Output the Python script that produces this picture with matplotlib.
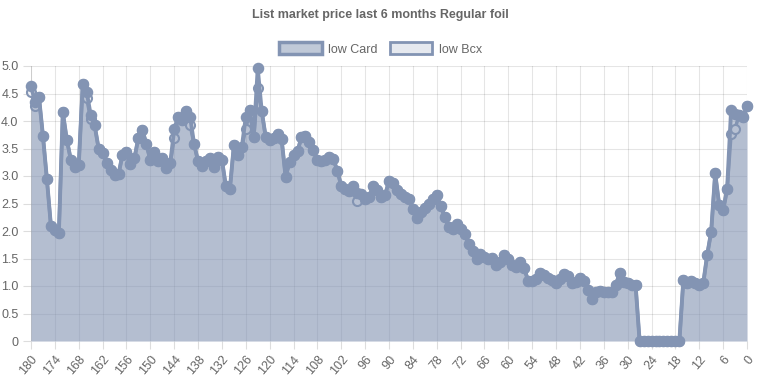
import matplotlib
matplotlib.use("Agg")
import matplotlib.pyplot as plt
from matplotlib.patches import Patch

plt.rcParams['font.family'] = ['Liberation Sans', 'DejaVu Sans']

# days back from today (180 -> 0), one value per day
days = list(range(180, -1, -1))

low_card = [
    4.64, 4.35, 4.44, 3.73, 2.94, 2.10, 2.01, 1.96, 4.16, 3.66,   # 180-171
    3.30, 3.16, 3.20, 4.67, 4.53, 4.11, 3.92, 3.50, 3.41, 3.24,   # 170-161
    3.11, 3.02, 3.03, 3.39, 3.44, 3.22, 3.32, 3.70, 3.84, 3.58,   # 160-151
    3.29, 3.43, 3.27, 3.32, 3.14, 3.23, 3.85, 4.08, 4.02, 4.18,   # 150-141
    4.08, 3.58, 3.27, 3.19, 3.27, 3.32, 3.17, 3.34, 3.29, 2.81,   # 140-131
    2.76, 3.56, 3.38, 3.53, 4.07, 4.20, 3.71, 4.96, 4.18, 3.71,   # 130-121
    3.65, 3.69, 3.76, 3.67, 2.99, 3.25, 3.38, 3.45, 3.71, 3.73,   # 120-111
    3.62, 3.47, 3.29, 3.27, 3.29, 3.35, 3.31, 3.10, 2.82, 2.76,   # 110-101
    2.73, 2.82, 2.70, 2.67, 2.59, 2.62, 2.82, 2.75, 2.61, 2.65,   # 100-91
    2.91, 2.87, 2.75, 2.67, 2.62, 2.58, 2.40, 2.24, 2.35, 2.41,   # 90-81
    2.50, 2.58, 2.65, 2.46, 2.26, 2.08, 2.04, 2.13, 2.04, 1.95,   # 80-71
    1.76, 1.64, 1.50, 1.58, 1.53, 1.49, 1.51, 1.38, 1.44, 1.56,   # 70-61
    1.49, 1.39, 1.35, 1.44, 1.32, 1.09, 1.09, 1.13, 1.23, 1.20,   # 60-51
    1.15, 1.11, 1.05, 1.13, 1.21, 1.19, 1.05, 1.08, 1.15, 1.09,   # 50-41
    0.93, 0.76, 0.90, 0.91, 0.90, 0.90, 0.89, 1.02, 1.23, 1.08,   # 40-31
    1.05, 1.02, 1.01, 0, 0, 0, 0, 0, 0, 0,                        # 30-21
    0, 0, 0, 0, 1.11, 1.05, 1.09, 1.05, 1.01, 1.05,               # 20-11
    1.57, 1.99, 3.05, 2.48, 2.38, 2.76, 4.20, 4.12, 4.11, 4.07,   # 10-1
    4.27,                                                         # 0
]

# low Bcx follows low Card except on a few days
bcx_diff = {180: 4.53, 179: 4.27, 166: 4.42, 165: 4.03, 144: 3.69, 140: 3.93,
            126: 3.86, 123: 4.60, 98: 2.55, 4: 3.77, 3: 3.86}
low_bcx = [bcx_diff.get(d, v) for d, v in zip(days, low_card)]

line_col = (131/255, 148/255, 179/255)
txt_col = '#666666'

fig = plt.figure(figsize=(7.61, 3.80), dpi=100)
ax = fig.add_axes([31/761, 1 - 341/380, 716/761, 275/380])

x = list(range(len(days)))

ax.fill_between(x, low_bcx, 0, color=line_col, alpha=0.2, lw=0, zorder=2)
ax.plot(x, low_bcx, color=line_col, lw=2.5, marker='o', ms=6.5, mfc='#eef0f5',
        mec=line_col, mew=1.5, zorder=3, clip_on=False)
ax.fill_between(x, low_card, 0, color=line_col, alpha=0.5, lw=0, zorder=4)
ax.plot(x, low_card, color=line_col, lw=2.8, marker='o', ms=6.8, mfc=line_col,
        mec=line_col, mew=1.5, zorder=5, clip_on=False)

ax.set_xlim(0, 180)
ax.set_ylim(0, 5)
tick_pos = x[::6]
ax.set_xticks(tick_pos)
ax.set_xticklabels([str(days[i]) for i in tick_pos], rotation=50, ha='right',
                   rotation_mode='anchor', fontsize=9, color=txt_col)
yt = [i * 0.5 for i in range(11)]
ax.set_yticks(yt)
ax.set_yticklabels(['0'] + ['%.1f' % v for v in yt[1:]], fontsize=9, color=txt_col)
ax.tick_params(axis='both', length=6, width=0.8, color='#dddddd', pad=3)
ax.grid(True, color='#000000', alpha=0.1, lw=0.8, zorder=1)
ax.set_axisbelow(True)
for s in ax.spines.values():
    s.set_visible(False)
ax.axvline(0, color='#000000', alpha=0.1, lw=0.8, zorder=1)
ax.axhline(0, color='#000000', alpha=0.1, lw=0.8, zorder=1)

fig.text(0.5, 1 - 15/380, 'List market price last 6 months Regular foil',
         ha='center', va='center', fontsize=9, fontweight='bold', color=txt_col)

handles = [Patch(facecolor=(*line_col, 0.5), edgecolor=line_col, lw=2.5, label='low Card'),
           Patch(facecolor=(*line_col, 0.2), edgecolor=line_col, lw=2.0, label='low Bcx')]
fig.legend(handles=handles, loc='center', bbox_to_anchor=(0.5, 1 - 49/380), ncol=2,
           frameon=False, fontsize=9, labelcolor=txt_col, handlelength=3.4,
           handleheight=1.1, handletextpad=0.5, columnspacing=1.0)

fig.savefig('out.png', dpi=100)
